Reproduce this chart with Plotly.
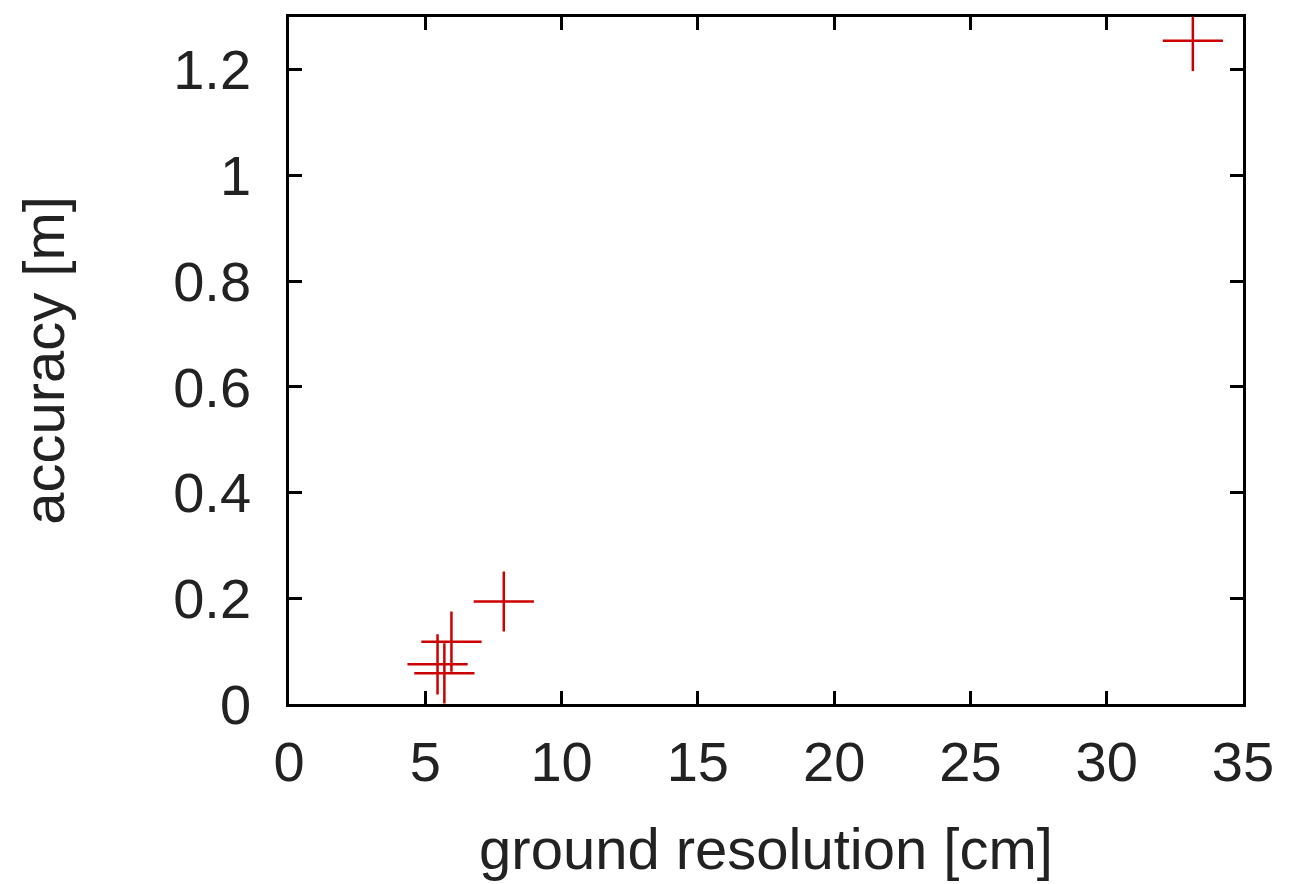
import plotly.graph_objects as go

ground_resolution_cm = [7.88, 5.96, 5.45, 5.70, 33.16]
accuracy_m = [0.194, 0.118, 0.075, 0.058, 1.255]

x_ticks = [0, 5, 10, 15, 20, 25, 30, 35]
y_ticks = [0, 0.2, 0.4, 0.6, 0.8, 1, 1.2]
y_tick_labels = ["0", "0.2", "0.4", "0.6", "0.8", "1", "1.2"]

FONT = "Liberation Sans, Arial, sans-serif"

fig = go.Figure()
fig.add_trace(go.Scatter(
    x=ground_resolution_cm, y=accuracy_m, mode="markers",
    marker=dict(symbol="cross-thin-open", size=43, color="#cc0000",
                line=dict(color="#cc0000", width=2.5)),
    showlegend=False, hoverinfo="x+y",
))

axis_common = dict(
    showgrid=False, zeroline=False, showline=True, linecolor="black",
    linewidth=2.5, mirror="ticks", ticks="inside", ticklen=13,
    tickwidth=2.5, tickcolor="black",
    tickfont=dict(family=FONT, size=56, color="#222222"),
)

fig.update_layout(
    width=1291, height=884,
    margin=dict(l=281, r=56, t=9, b=188, autoexpand=False),
    paper_bgcolor="white", plot_bgcolor="white",
    font=dict(family=FONT, color="#222222"),
    xaxis=dict(range=[0, 35], tickvals=x_ticks, ticklabelstandoff=7,
               title=dict(text="ground resolution [cm]",
                          font=dict(family=FONT, size=58, color="#222222"),
                          standoff=37),
               **axis_common),
    yaxis=dict(range=[0, 1.3], tickvals=y_ticks, ticktext=y_tick_labels,
               ticklabelstandoff=24,
               title=dict(text="accuracy [m]",
                          font=dict(family=FONT, size=58, color="#222222"),
                          standoff=90),
               **axis_common),
)

fig.write_html("out.html")
